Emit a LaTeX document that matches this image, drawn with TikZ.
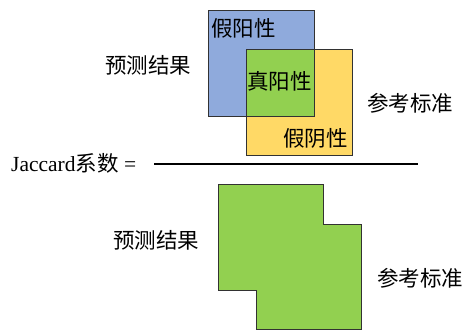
\documentclass[tikz,border=0pt]{standalone}
\usepackage{fontspec}
\setmainfont{Liberation Serif}
\newfontfamily\cjk{Noto Sans CJK SC}
\definecolor{predblue}{RGB}{143,170,220}
\definecolor{tpgreen}{RGB}{146,208,80}
\definecolor{refyellow}{RGB}{255,217,102}
\definecolor{edgegray}{RGB}{50,50,50}
\begin{document}
\begin{tikzpicture}[x=1pt,y=-1pt,
  lbl/.style={inner sep=0pt,font=\cjk\fontsize{21.5}{22}\selectfont},
  edge/.style={draw=edgegray,line width=1pt}]
\useasboundingbox (0,0) rectangle (472,331);
% top: overlapping squares
\fill[predblue] (208,11) rectangle (314,117);
\fill[refyellow] (246,50) rectangle (352,156);
\fill[tpgreen] (246,50) rectangle (314,117);
\draw[edge] (208,11) rectangle (314,117);
\draw[edge] (246,50) rectangle (352,156);
\node[lbl,anchor=west] (fp) at (211,28) {假阳性};
\node[lbl,anchor=west] (tp) at (247,81) {真阳性};
\node[lbl,anchor=east] (fn) at (348,138) {假阴性};
\node[lbl] (pred1) at (148,65) {预测结果};
\node[lbl] (ref1) at (410,103) {参考标准};
% fraction line
\node[inner sep=0pt,anchor=west,font=\fontsize{21.5}{22}\selectfont] (jac) at (11,163) {Jaccard{\cjk 系数} =};
\coordinate (lineA) at (154,164);
\coordinate (lineB) at (418,164);
\draw[line width=2.2pt] (lineA) -- (lineB);
% bottom: union shape
\filldraw[fill=tpgreen,edge] (218,185) -- (323,185) -- (323,225) -- (361,225) -- (361,330) -- (256,330) -- (256,291) -- (218,291) -- cycle;
\node[lbl] (pred2) at (156,240) {预测结果};
\node[lbl] (ref2) at (420,278) {参考标准};
\end{tikzpicture}
\end{document}
